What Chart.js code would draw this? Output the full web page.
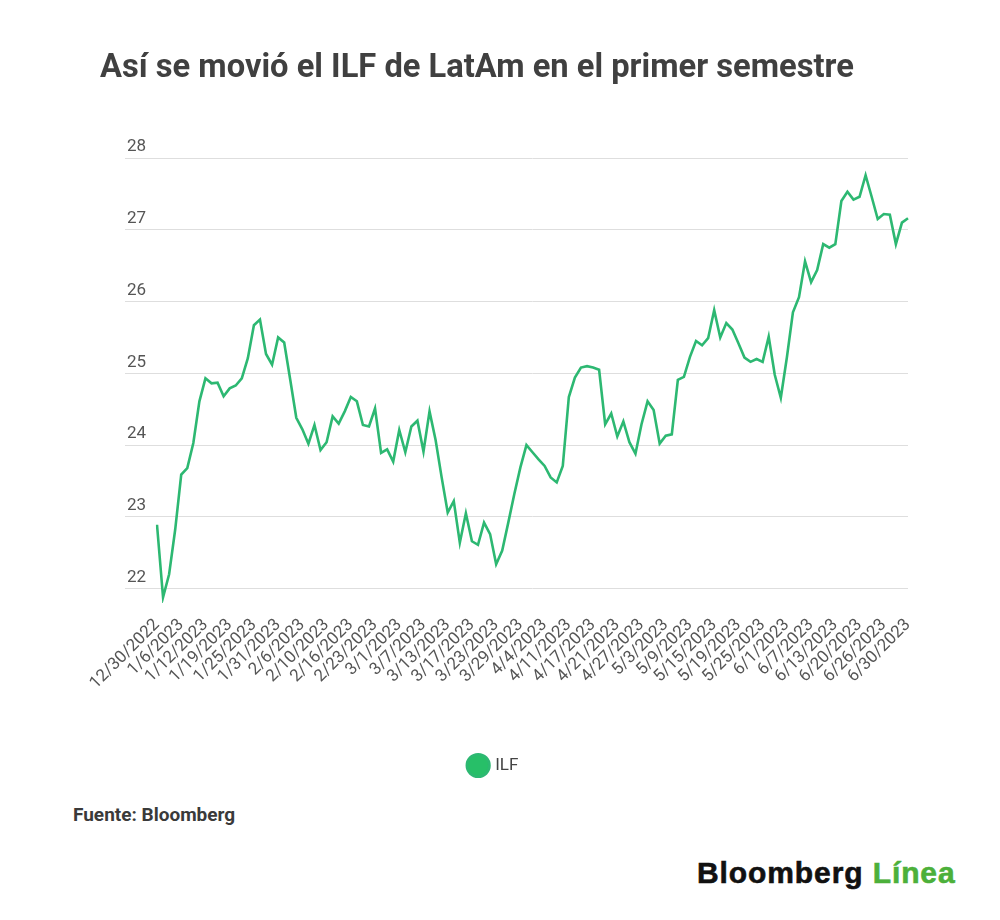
<!DOCTYPE html>
<html lang="es">
<head>
<meta charset="utf-8">
<title>ILF LatAm</title>
<script src="https://cdn.jsdelivr.net/npm/chart.js@4/dist/chart.umd.min.js"></script>
<style>
    body { margin: 0; background: #fff; font-family: Roboto, sans-serif; }
    #page { position: relative; width: 1000px; height: 920px; overflow: hidden; }
    #title { position: absolute; left: 100px; top: 47px; font-size: 32.7px; line-height: 38px; font-weight: 700; color: #404040; white-space: nowrap; }
    #chart-box { position: absolute; left: 0; top: 0; width: 1000px; height: 800px; }
    #source { position: absolute; left: 73px; top: 804px; font-size: 19px; line-height: 22px; font-weight: 700; color: #3a3a3a; }
    #logo { position: absolute; left: 697px; top: 856px; font-family: "Liberation Sans", Arial, sans-serif; font-size: 30px; line-height: 34px; font-weight: 700; letter-spacing: 0.9px; color: #111; white-space: nowrap; -webkit-text-stroke: 0.6px #111; }
    #logo span { color: #4cb03a; -webkit-text-stroke: 0.6px #4cb03a; }
</style>
</head>
<body>
<div id="page">
    <div id="chart-box"><canvas id="ilfChart" width="1000" height="800"></canvas></div>
    <div id="title">Así se movió el ILF de LatAm en el primer semestre</div>
    <div id="source">Fuente: Bloomberg</div>
    <div id="logo">Bloomberg <span>Línea</span></div>
</div>
<script>
// trading days, 12/30/2022 - 6/30/2023
const dates = [
    '12/30/2022',
    '1/3/2023', '1/4/2023', '1/5/2023', '1/6/2023', '1/9/2023', '1/10/2023', '1/11/2023', '1/12/2023', '1/13/2023',
    '1/17/2023', '1/18/2023', '1/19/2023', '1/20/2023', '1/23/2023', '1/24/2023', '1/25/2023', '1/26/2023', '1/27/2023',
    '1/30/2023', '1/31/2023',
    '2/1/2023', '2/2/2023', '2/3/2023', '2/6/2023', '2/7/2023', '2/8/2023', '2/9/2023', '2/10/2023', '2/13/2023',
    '2/14/2023', '2/15/2023', '2/16/2023', '2/17/2023', '2/21/2023', '2/22/2023', '2/23/2023', '2/24/2023', '2/27/2023',
    '2/28/2023',
    '3/1/2023', '3/2/2023', '3/3/2023', '3/6/2023', '3/7/2023', '3/8/2023', '3/9/2023', '3/10/2023', '3/13/2023',
    '3/14/2023', '3/15/2023', '3/16/2023', '3/17/2023', '3/20/2023', '3/21/2023', '3/22/2023', '3/23/2023', '3/24/2023',
    '3/27/2023', '3/28/2023', '3/29/2023', '3/30/2023', '3/31/2023',
    '4/3/2023', '4/4/2023', '4/5/2023', '4/6/2023', '4/10/2023', '4/11/2023', '4/12/2023', '4/13/2023', '4/14/2023',
    '4/17/2023', '4/18/2023', '4/19/2023', '4/20/2023', '4/21/2023', '4/24/2023', '4/25/2023', '4/26/2023', '4/27/2023',
    '4/28/2023',
    '5/1/2023', '5/2/2023', '5/3/2023', '5/4/2023', '5/5/2023', '5/8/2023', '5/9/2023', '5/10/2023', '5/11/2023',
    '5/12/2023', '5/15/2023', '5/16/2023', '5/17/2023', '5/18/2023', '5/19/2023', '5/22/2023', '5/23/2023', '5/24/2023',
    '5/25/2023', '5/26/2023', '5/30/2023', '5/31/2023',
    '6/1/2023', '6/2/2023', '6/5/2023', '6/6/2023', '6/7/2023', '6/8/2023', '6/9/2023', '6/12/2023', '6/13/2023',
    '6/14/2023', '6/15/2023', '6/16/2023', '6/20/2023', '6/21/2023', '6/22/2023', '6/23/2023', '6/26/2023', '6/27/2023',
    '6/28/2023', '6/29/2023', '6/30/2023'
];

// ILF close
const ilfClose = [
    22.89,
    21.88, 22.20, 22.82, 23.59, 23.68, 24.03, 24.61, 24.93, 24.86, 24.87, 24.68, 24.79, 24.83, 24.93, 25.21, 25.67, 25.75,
    25.27, 25.12, 25.50,
    25.43, 24.91, 24.38, 24.22, 24.02, 24.28, 23.93, 24.04, 24.40, 24.30, 24.47, 24.67, 24.61, 24.28, 24.26, 24.51,
    23.89, 23.94, 23.77,
    24.21, 23.90, 24.26, 24.34, 23.91, 24.47, 24.07, 23.55, 23.06, 23.22, 22.64, 23.05, 22.66, 22.61, 22.92, 22.76,
    22.34, 22.53, 22.92, 23.32, 23.69, 24.00, 23.90,
    23.80, 23.71, 23.55, 23.48, 23.71, 24.67, 24.94, 25.08, 25.10, 25.08, 25.05, 24.29, 24.44, 24.12, 24.33, 24.04,
    23.88, 24.29, 24.61,
    24.49, 24.02, 24.13, 24.15, 24.91, 24.95, 25.23, 25.45, 25.39, 25.49, 25.88, 25.50, 25.70, 25.61, 25.42, 25.22,
    25.16, 25.20, 25.16, 25.51, 24.98, 24.66,
    25.22, 25.85, 26.06, 26.56, 26.27, 26.44, 26.80, 26.75, 26.80, 27.40, 27.53, 27.42, 27.46, 27.76, 27.46, 27.15,
    27.22, 27.21, 26.80, 27.10, 27.16
];

const yTicks = [22, 23, 24, 25, 26, 27, 28];
const labelEvery = 4;

const lineGreen = '#2db872';
const gridGray = '#dedede';
const tickGray = '#555555';

function drawChart() {
    const ctx = document.getElementById('ilfChart').getContext('2d');

    new Chart(ctx, {
        type: 'line',
        data: {
            labels: dates,
            datasets: [{
                label: 'ILF',
                data: ilfClose,
                borderColor: lineGreen,
                backgroundColor: '#27bf68',
                borderWidth: 2.6,
                pointRadius: 0,
                pointHoverRadius: 0,
                tension: 0,
                fill: false
            }]
        },
        options: {
            responsive: false,
            animation: false,
            // left padding kept small so the legend centres where the original does
            layout: { padding: { top: 158, left: 80, right: 92, bottom: 16 } },
            scales: {
                x: {
                    offset: false,
                    grid: { display: false },
                    border: { display: false },
                    ticks: {
                        autoSkip: false,
                        minRotation: 45,
                        maxRotation: 45,
                        padding: 4,
                        color: tickGray,
                        font: { family: 'Roboto', size: 17 },
                        callback: (value, index) => index % labelEvery === 0 ? dates[index] : ''
                    },
                    afterFit: (scale) => { scale.height = 144; }
                },
                y: {
                    min: 21.8,
                    max: 28,
                    border: { display: false },
                    grid: { color: gridGray, lineWidth: 1, tickLength: 32, drawTicks: true },
                    afterBuildTicks: (scale) => {
                        scale.ticks = yTicks.map(v => ({ value: v }));
                    },
                    ticks: {
                        crossAlign: 'near',
                        padding: -21,
                        labelOffset: -11,
                        color: tickGray,
                        font: { family: 'Roboto', size: 17 }
                    },
                    afterFit: (scale) => { scale.width = 77; }
                }
            },
            plugins: {
                title: { display: false },
                tooltip: { enabled: false },
                legend: {
                    position: 'bottom',
                    labels: {
                        usePointStyle: true,
                        pointStyle: 'circle',
                        boxHeight: 16,
                        padding: 10,
                        color: '#444',
                        font: { family: 'Roboto', size: 17 }
                    }
                }
            }
        }
    });
}

document.fonts.load('17px Roboto').then(drawChart, drawChart);
</script>
</body>
</html>
